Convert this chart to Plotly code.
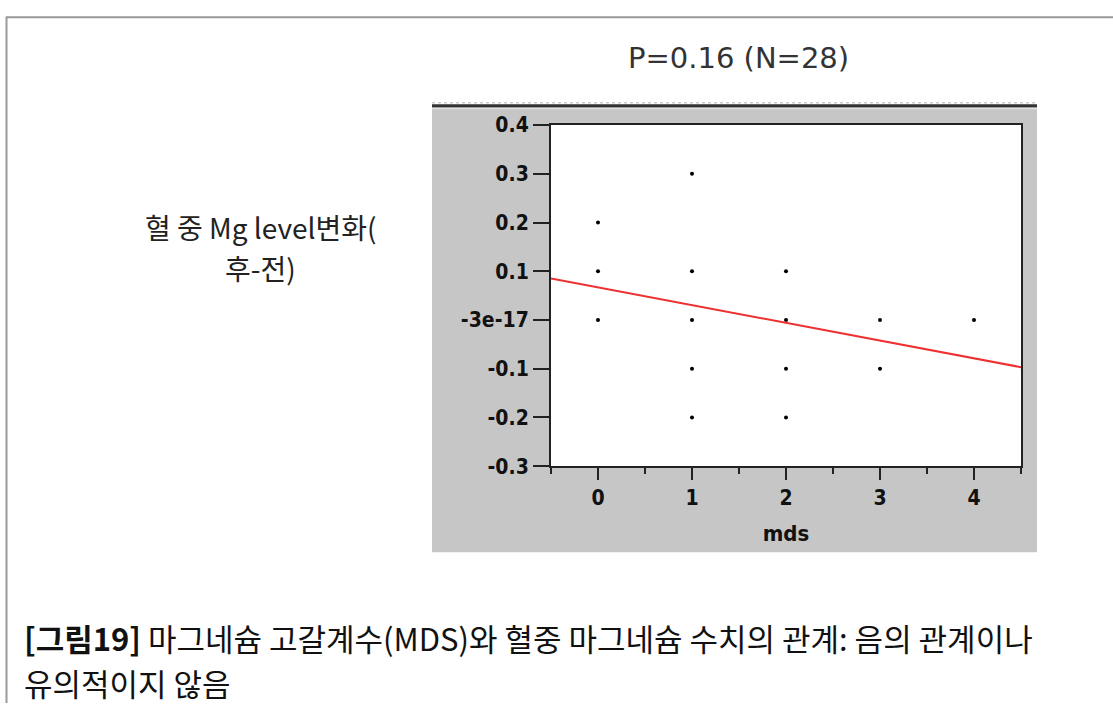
import plotly.graph_objects as go

# Observed (mds, change in blood Mg level) pairs
mds = [0, 0, 0, 1, 1, 1, 1, 1, 2, 2, 2, 2, 3, 3, 4]
mg_change = [0.2, 0.1, 0.0, 0.3, 0.1, 0.0, -0.1, -0.2, 0.1, 0.0, -0.1, -0.2, 0.0, -0.1, 0.0]

# Fitted least-squares line
fit_intercept = 0.067
fit_slope = -0.0364
fit_x = [-0.5, 4.5]

x_ticks = [0, 1, 2, 3, 4]
y_ticks = [-0.3, -0.2, -0.1, 0.0, 0.1, 0.2, 0.3, 0.4]
y_ticktext = ["-0.3", "-0.2", "-0.1", "-3e-17", "0.1", "0.2", "0.3", "0.4"]

title_text = "P=0.16 (N=28)"
y_label_lines = ["혈 중 Mg level변화(", "후-전)"]
x_label = "mds"
caption_1 = "<b>[그림19]</b> 마그네슘 고갈계수(MDS)와 혈중 마그네슘 수치의 관계: 음의 관계이나"
caption_2 = "유의적이지 않음"

W, H = 1113, 715


def px(x):
    return x / W


def py(y):
    return 1 - y / H


fit_y = [fit_intercept + fit_slope * v for v in fit_x]

fig = go.Figure()
fig.add_trace(go.Scatter(
    x=mds, y=mg_change, mode="markers",
    marker=dict(color="black", size=4),
    hoverinfo="x+y", showlegend=False,
))
fig.add_trace(go.Scatter(
    x=fit_x, y=fit_y, mode="lines",
    line=dict(color="#ee3030", width=2),
    showlegend=False,
))

tick_font = dict(family="DejaVu Sans Condensed, Liberation Sans Narrow, sans-serif",
                 size=21, color="#111")
korean_font = "Noto Sans CJK KR, sans-serif"

annotations = [
    dict(text=title_text, xref="paper", yref="paper", x=px(738), y=py(48),
         showarrow=False, xanchor="center", yanchor="middle",
         font=dict(family="DejaVu Sans, sans-serif", size=29, color="#333")),
    dict(text=caption_1, xref="paper", yref="paper", x=px(22), y=py(647),
         showarrow=False, xanchor="left", yanchor="middle", align="left",
         font=dict(family=korean_font, size=31, color="#111")),
    dict(text=caption_2, xref="paper", yref="paper", x=px(22), y=py(694),
         showarrow=False, xanchor="left", yanchor="middle", align="left",
         font=dict(family=korean_font, size=31, color="#111")),
]
for line, ypix in zip(y_label_lines, [222, 265]):
    annotations.append(dict(
        text=line, xref="paper", yref="paper", x=px(260), y=py(ypix),
        showarrow=False, xanchor="center", yanchor="middle",
        font=dict(family=korean_font, size=28, color="#222"),
    ))

fig.update_layout(
    width=W, height=H,
    margin=dict(l=0, r=0, t=0, b=0),
    paper_bgcolor="white",
    plot_bgcolor="white",
    xaxis=dict(
        domain=[px(551), px(1021)],
        range=[-0.5, 4.5],
        tickvals=x_ticks,
        ticktext=["<b>%d</b>" % v for v in x_ticks],
        ticks="outside", ticklen=12, tickwidth=2, tickcolor="#222",
        minor=dict(tickvals=[-0.5, 0.5, 1.5, 2.5, 3.5, 4.5], ticks="outside",
                   ticklen=6, tickwidth=2, tickcolor="#222"),
        showgrid=False, zeroline=False,
        showline=True, linecolor="#222", linewidth=2, mirror=True,
        tickfont=tick_font,
        ticklabelstandoff=0,
        title=dict(text="<b>mds</b>", font=dict(tick_font, size=22), standoff=16),
        fixedrange=True,
    ),
    yaxis=dict(
        domain=[py(470), py(117)],
        range=[-0.3, 0.4],
        tickvals=y_ticks, ticktext=["<b>%s</b>" % t for t in y_ticktext],
        ticks="outside", ticklen=16, tickwidth=2, tickcolor="#222",
        showgrid=False, zeroline=False,
        showline=True, linecolor="#222", linewidth=2, mirror=True,
        tickfont=tick_font,
        fixedrange=True,
    ),
    shapes=[
        # page frame
        dict(type="line", xref="paper", yref="paper", x0=px(6), x1=1, y0=py(5.5), y1=py(5.5),
             line=dict(color="#9a9a9a", width=2)),
        dict(type="line", xref="paper", yref="paper", x0=px(6.5), x1=px(6.5), y0=py(5), y1=0,
             line=dict(color="#9a9a9a", width=2)),
        # gray chart panel
        dict(type="rect", xref="paper", yref="paper", layer="below",
             x0=px(432), x1=px(1037), y0=py(559), y1=py(97),
             fillcolor="#c6c6c6", line=dict(width=0)),
        dict(type="rect", xref="paper", yref="paper", layer="below",
             x0=px(551), x1=px(1021), y0=py(470), y1=py(117),
             fillcolor="white", line=dict(width=0)),
        dict(type="line", xref="paper", yref="paper", x0=px(432), x1=px(1037), y0=py(94), y1=py(94),
             line=dict(color="#b0b0b0", width=1, dash="dot")),
        dict(type="line", xref="paper", yref="paper", x0=px(432), x1=px(1037), y0=py(97), y1=py(97),
             line=dict(color="#333", width=3)),
        dict(type="line", xref="paper", yref="paper", x0=px(432), x1=px(1037), y0=py(100), y1=py(100),
             line=dict(color="#e6e6e6", width=1)),
    ],
    annotations=annotations,
)

fig.write_html("out.html")
